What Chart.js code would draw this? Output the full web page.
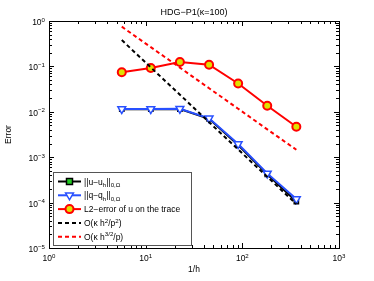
<!DOCTYPE html>
<html>
<head>
<meta charset="utf-8">
<script src="https://cdn.jsdelivr.net/npm/chart.js@4/dist/chart.umd.min.js"></script>
<style>
  html, body { margin: 0; padding: 0; background: #fff; }
  #wrap { width: 374px; height: 281px; }
</style>
</head>
<body>
<div id="wrap"><canvas id="c" width="374" height="281"></canvas></div>
<script>
// Данные
const invH = [5.66, 11.3, 22.6, 45.3, 90.5, 181, 362];
const errU = [0.0114, 0.0114, 0.0115, 0.0070, 0.00185, 0.00042, 0.000105];
const errQ = [0.0115, 0.0115, 0.0116, 0.0072, 0.00195, 0.00044, 0.00012];
const errTrace = [0.074, 0.092, 0.125, 0.109, 0.042, 0.0136, 0.0047];
const rateH2 = [0.38, 0.095, 0.0238, 0.0059, 0.00148, 0.00037, 0.000093];
const rateH32 = [0.75, 0.265, 0.094, 0.033, 0.0117, 0.0041, 0.00146];

const xTicks = [1, 10, 100, 1000];
const yTicks = [1e-5, 1e-4, 1e-3, 1e-2, 1e-1, 1];

const BLUE = "#2850ff";
const RED = "#ff0000";
const FONT = "'Liberation Sans', Arial, sans-serif";

const pts = (ys) => invH.map((x, i) => ({ x, y: ys[i] }));

const series = [
  { label: [["||u−u", ""], ["h", "sub"], ["||", ""], ["0,Ω", "sub"]], data: errU,
    color: "#000", style: "rect", fill: "#22cc22", dash: [], rot: 0, r: 3 },
  { label: [["||q−q", ""], ["h", "sub"], ["||", ""], ["0,Ω", "sub"]], data: errQ,
    color: BLUE, style: "triangle", fill: "#ffffff", dash: [], rot: 180, r: 4.5 },
  { label: [["L2−error of u on the trace", ""]], data: errTrace,
    color: RED, style: "circle", fill: "#e0e000", dash: [], rot: 0, r: 4 },
  { label: [["O(κ h", ""], ["2", "sup"], ["/p", ""], ["2", "sup"], [")", ""]], data: rateH2,
    color: "#000", style: false, fill: null, dash: [4, 3], rot: 0, r: 0 },
  { label: [["O(κ h", ""], ["3/2", "sup"], ["/p)", ""]], data: rateH32,
    color: RED, style: false, fill: null, dash: [4, 3], rot: 0, r: 0 },
];

// текст с индексами
function richText(ctx, parts, x, y, size) {
  let cx = x;
  for (const [t, kind] of parts) {
    let s = size, dy = 0;
    if (kind === "sub") { s = size * 0.72; dy = size * 0.35; }
    if (kind === "sup") { s = size * 0.72; dy = -size * 0.4; }
    ctx.font = `${s}px ${FONT}`;
    ctx.fillText(t, cx, y + dy);
    cx += ctx.measureText(t).width;
  }
  return cx - x;
}
function richWidth(ctx, parts, size) {
  let w = 0;
  for (const [t, kind] of parts) {
    const s = kind ? size * 0.72 : size;
    ctx.font = `${s}px ${FONT}`;
    w += ctx.measureText(t).width;
  }
  return w;
}

const axesPlugin = {
  id: "matlabAxes",
  afterDraw(chart) {
    const ctx = chart.ctx;
    const a = chart.chartArea;
    const sx = chart.scales.x, sy = chart.scales.y;
    ctx.save();
    ctx.strokeStyle = "#000";
    ctx.fillStyle = "#000";
    ctx.lineWidth = 1;
    ctx.setLineDash([]);
    // рамка
    ctx.strokeRect(Math.round(a.left) + 0.5, Math.round(a.top) + 0.5,
      Math.round(a.right - a.left), Math.round(a.bottom - a.top));

    // деления X
    ctx.beginPath();
    for (let d = 0; d < 3; d++) {
      for (let m = 1; m <= 9; m++) {
        const v = Math.pow(10, d) * m;
        const px = Math.round(sx.getPixelForValue(v)) + 0.5;
        const len = m === 1 ? 5 : 3;
        ctx.moveTo(px, a.bottom); ctx.lineTo(px, a.bottom - len);
        ctx.moveTo(px, a.top); ctx.lineTo(px, a.top + len);
      }
    }
    // деления Y
    for (let d = -5; d < 0; d++) {
      for (let m = 1; m <= 9; m++) {
        const v = Math.pow(10, d) * m;
        const py = Math.round(sy.getPixelForValue(v)) + 0.5;
        const len = m === 1 ? 5 : 3;
        ctx.moveTo(a.left, py); ctx.lineTo(a.left + len, py);
        ctx.moveTo(a.right, py); ctx.lineTo(a.right - len, py);
      }
    }
    ctx.stroke();

    // подписи делений
    ctx.textBaseline = "alphabetic";
    ctx.textAlign = "left";
    for (const v of xTicks) {
      const px = sx.getPixelForValue(v);
      const parts = [["10", ""], [String(Math.round(Math.log10(v))), "sup"]];
      const w = richWidth(ctx, parts, 8.5);
      richText(ctx, parts, px - w / 2, a.bottom + 13, 8.5);
    }
    for (const v of yTicks) {
      const py = sy.getPixelForValue(v);
      const parts = [["10", ""], [String(Math.round(Math.log10(v))).replace("-", "−"), "sup"]];
      const w = richWidth(ctx, parts, 8.5);
      richText(ctx, parts, a.left - 4 - w, py + 4, 8.5);
    }

    // заголовок и оси
    ctx.textAlign = "center";
    ctx.font = `9px ${FONT}`;
    ctx.fillText("HDG−P1(κ=100)", (a.left + a.right) / 2, 15);
    ctx.font = `8.5px ${FONT}`;
    ctx.fillText("1/h", (a.left + a.right) / 2, 272);
    ctx.save();
    ctx.translate(11, (a.top + a.bottom) / 2);
    ctx.rotate(-Math.PI / 2);
    ctx.fillText("Error", 0, 0);
    ctx.restore();

    // легенда
    const lx = 53, ly = 172, lw = 138, lh = 73, row = 13.8;
    ctx.fillStyle = "#fff";
    ctx.fillRect(lx, ly, lw, lh);
    ctx.strokeStyle = "#555";
    ctx.lineWidth = 1;
    ctx.strokeRect(lx + 0.5, ly + 0.5, lw, lh);
    ctx.textAlign = "left";
    series.forEach((s, i) => {
      const yy = ly + 9.5 + i * row;
      const mx = lx + 16.5;
      ctx.strokeStyle = s.color;
      ctx.lineWidth = 2;
      ctx.setLineDash(s.dash);
      ctx.beginPath();
      ctx.moveTo(lx + 5, yy); ctx.lineTo(lx + 28, yy);
      ctx.stroke();
      ctx.setLineDash([]);
      if (s.style) {
        ctx.fillStyle = s.fill;
        ctx.lineWidth = s.style === "circle" ? 2 : 1.5;
        ctx.beginPath();
        if (s.style === "circle") ctx.arc(mx, yy, s.r, 0, Math.PI * 2);
        else if (s.style === "rect") ctx.rect(mx - s.r, yy - s.r, s.r * 2, s.r * 2);
        else {
          const r = s.r;
          ctx.moveTo(mx - r * 0.87, yy - r * 0.5);
          ctx.lineTo(mx + r * 0.87, yy - r * 0.5);
          ctx.lineTo(mx, yy + r);
          ctx.closePath();
        }
        ctx.fill();
        ctx.stroke();
      }
      ctx.fillStyle = "#000";
      richText(ctx, s.label, lx + 31, yy + 3, 8.5);
    });
    ctx.restore();
  },
};

new Chart(document.getElementById("c"), {
  type: "line",
  data: {
    datasets: series.map((s, i) => ({
      label: s.label.map((p) => p[0]).join(""),
      data: pts(s.data),
      borderColor: s.color,
      backgroundColor: s.fill || s.color,
      borderWidth: 2,
      borderDash: s.dash,
      pointStyle: s.style,
      pointRadius: s.r,
      pointRotation: s.rot,
      pointBorderWidth: s.style === "circle" ? 2 : 1.5,
      pointBorderColor: s.color,
      pointBackgroundColor: s.fill || s.color,
      tension: 0,
      order: 5 - i,
    })),
  },
  options: {
    responsive: false,
    animation: false,
    layout: { padding: { left: 49, right: 35, top: 21, bottom: 33 } },
    scales: {
      x: { type: "logarithmic", min: 1, max: 1000, display: false },
      y: { type: "logarithmic", min: 1e-5, max: 1, display: false },
    },
    plugins: {
      legend: { display: false },
      tooltip: { enabled: false },
    },
  },
  plugins: [axesPlugin],
});
</script>
</body>
</html>
